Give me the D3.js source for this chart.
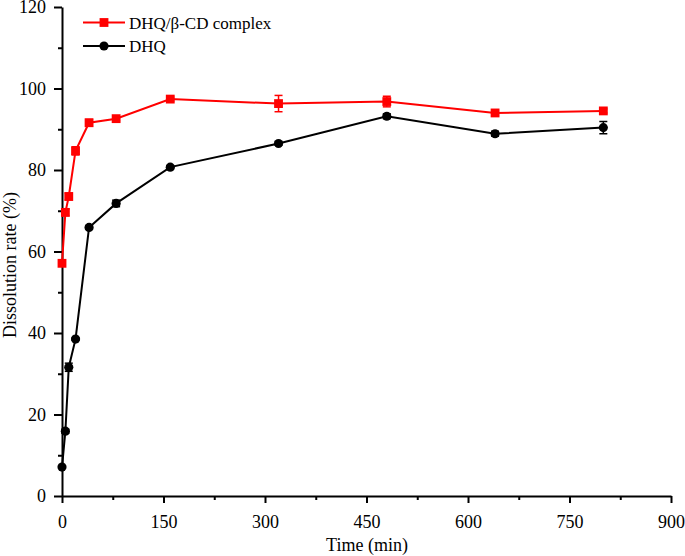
<!DOCTYPE html>
<html lang="en">
<head>
    <meta charset="UTF-8">
    <title>Dissolution rate</title>
    <script src="https://d3js.org/d3.v7.min.js"></script>
    <style>
        body { margin: 0; background: #fff; }
        svg text { font-family: "Liberation Serif", "Times New Roman", serif; fill: #000; }
        .axis path, .axis line { stroke: #000; stroke-width: 2; }
    </style>
</head>
<body>
    <svg width="685" height="556"></svg>
    <script>
        // data
        const times = [0, 5, 10, 20, 40, 80, 160, 320, 480, 640, 800];
        const complexVals = [57.1, 69.6, 73.5, 84.7, 91.6, 92.6, 97.4, 96.3, 96.8, 94.0, 94.5];
        const complexErr  = [0.5, 0.8, 0.8, 1.0, 0.8, 0.5, 0.5, 2.0, 1.3, 0.5, 0.5];
        const dhqVals = [7.1, 15.9, 31.6, 38.5, 65.9, 71.8, 80.7, 86.5, 93.2, 88.9, 90.4];
        const dhqErr  = [0.3, 0.5, 1.0, 0.3, 0.4, 0.8, 0.4, 0.4, 0.6, 0.6, 1.5];
        const xTicks = [0, 150, 300, 450, 600, 750, 900];
        const yTicks = [0, 20, 40, 60, 80, 100, 120];

        const svg = d3.select("svg");
        const plotL = 62, plotR = 671, plotT = 7, plotB = 496;
        const serif = "Liberation Serif, Times New Roman, serif";

        const x = d3.scaleLinear().domain([0, 900]).range([plotL, plotR]);
        const y = d3.scaleLinear().domain([0, 120]).range([plotB, plotT]);

        // minor ticks
        svg.append("g")
           .attr("class", "axis")
           .attr("transform", `translate(0,${plotB})`)
           .call(d3.axisBottom(x).tickValues(d3.range(75, 900, 150)).tickSize(4).tickFormat(""))
           .select(".domain").remove();
        svg.append("g")
           .attr("class", "axis")
           .attr("transform", `translate(${plotL},0)`)
           .call(d3.axisLeft(y).tickValues(d3.range(10, 120, 20)).tickSize(4).tickFormat(""))
           .select(".domain").remove();

        // major axes (font set after the call, axis() writes its own defaults)
        svg.append("g")
           .attr("class", "axis")
           .attr("transform", `translate(0,${plotB})`)
           .call(d3.axisBottom(x).tickValues(xTicks).tickSize(7).tickSizeOuter(0).tickPadding(12))
           .attr("font-family", serif)
           .attr("font-size", 18);

        svg.append("g")
           .attr("class", "axis")
           .attr("transform", `translate(${plotL},0)`)
           .call(d3.axisLeft(y).tickValues(yTicks).tickSize(8).tickSizeOuter(0).tickPadding(8))
           .attr("font-family", serif)
           .attr("font-size", 18);

        svg.append("text")
           .attr("x", 367)
           .attr("y", 551)
           .attr("text-anchor", "middle")
           .attr("font-size", 18)
           .text("Time (min)");
        svg.append("text")
           .attr("transform", "translate(16,265) rotate(-90)")
           .attr("text-anchor", "middle")
           .attr("font-size", 18)
           .text("Dissolution rate (%)");

        const series = [
            { name: "DHQ/\u03b2-CD complex", vals: complexVals, err: complexErr, color: "#ff0000", shape: "square" },
            { name: "DHQ", vals: dhqVals, err: dhqErr, color: "#000000", shape: "circle" }
        ];

        const symFor = s => d3.symbol()
            .type(s.shape === "square" ? d3.symbolSquare : d3.symbolCircle)
            .size(s.shape === "square" ? 78 : 66);

        const line = d3.line().x(d => x(d[0])).y(d => y(d[1]));

        series.slice().reverse().forEach(s => {
            const pts = times.map((t, i) => [t, s.vals[i], s.err[i]]);
            const g = svg.append("g");
            g.append("path")
             .datum(pts)
             .attr("d", line)
             .attr("fill", "none")
             .attr("stroke", s.color)
             .attr("stroke-width", 2);

            // error bars
            const eb = g.selectAll(".eb").data(pts).enter().append("g")
             .attr("stroke", s.color).attr("stroke-width", 1.5);
            eb.append("line")
              .attr("x1", d => x(d[0])).attr("x2", d => x(d[0]))
              .attr("y1", d => y(d[1] - d[2])).attr("y2", d => y(d[1] + d[2]));
            eb.append("line")
              .attr("x1", d => x(d[0]) - 4).attr("x2", d => x(d[0]) + 4)
              .attr("y1", d => y(d[1] + d[2])).attr("y2", d => y(d[1] + d[2]));
            eb.append("line")
              .attr("x1", d => x(d[0]) - 4).attr("x2", d => x(d[0]) + 4)
              .attr("y1", d => y(d[1] - d[2])).attr("y2", d => y(d[1] - d[2]));

            g.selectAll(".pt").data(pts).enter().append("path")
             .attr("d", symFor(s))
             .attr("transform", d => `translate(${x(d[0])},${y(d[1])})`)
             .attr("fill", s.color);
        });

        // legend
        const legend = svg.append("g").attr("transform", "translate(83,22.5)");
        series.forEach((s, i) => {
            const row = legend.append("g").attr("transform", `translate(0,${i * 23.5})`);
            row.append("line").attr("x1", 0).attr("x2", 42).attr("y1", 0).attr("y2", 0)
               .attr("stroke", s.color).attr("stroke-width", 2);
            row.append("path")
               .attr("d", symFor(s))
               .attr("transform", "translate(21,0)")
               .attr("fill", s.color);
            row.append("text").attr("x", 46).attr("y", 6).attr("font-size", 17).text(s.name);
        });
    </script>
</body>
</html>
